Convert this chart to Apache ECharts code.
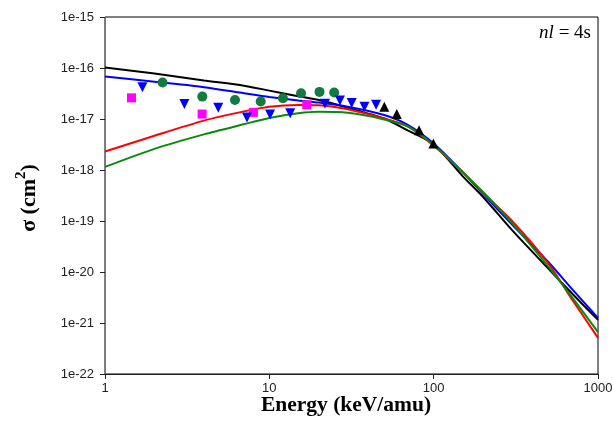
<!DOCTYPE html>
<html>
<head>
<meta charset="utf-8">
<script src="https://cdn.jsdelivr.net/npm/echarts@6/dist/echarts.min.js"></script>
<style>
  html, body { margin: 0; padding: 0; background: #fff; }
  #chart { width: 613px; height: 429px; }
</style>
</head>
<body>
<div id="chart"></div>
<script>
// energy grid (keV/amu) shared by the four theory curves
const energies = [1, 2, 4, 7, 10, 15, 20, 30, 50, 70, 100, 150, 200, 300, 500, 700, 1000];

const blackCurve = [1.02e-16, 7.8e-17, 5.7e-17, 4.5e-17, 3.6e-17, 2.8e-17, 2.35e-17, 1.66e-17, 1.02e-17, 5.9e-18,
  3.2e-18, 7.6e-19, 2.95e-19, 6.6e-20, 1.15e-20, 3.7e-21, 1.15e-21];
const blueCurve = [6.8e-17, 5.4e-17, 4.2e-17, 3.2e-17, 2.7e-17, 2.3e-17, 2.1e-17, 1.74e-17, 1.2e-17, 7.6e-18,
  3.3e-18, 9.1e-19, 3.4e-19, 8.5e-20, 1.55e-20, 4.5e-21, 1.26e-21];
const redCurve = [2.3e-18, 4.7e-18, 9.3e-18, 1.41e-17, 1.74e-17, 1.88e-17, 1.86e-17, 1.55e-17, 1.02e-17, 7.1e-18,
  3.0e-18, 9.1e-19, 3.5e-19, 1.0e-19, 1.45e-20, 2.8e-21, 5.1e-22];
const greenCurve = [1.15e-18, 2.6e-18, 5.0e-18, 7.9e-18, 1.05e-17, 1.29e-17, 1.38e-17, 1.32e-17, 9.8e-18, 7.1e-18,
  3.1e-18, 9.1e-19, 3.7e-19, 9.1e-20, 1.26e-20, 3.1e-21, 6.6e-22];

// experimental points
const squareE = [1.45, 3.9, 8.0, 16.9];
const squareS = [2.6e-17, 1.25e-17, 1.35e-17, 1.9e-17];

const circleE = [2.24, 3.91, 6.18, 8.86, 12.1, 15.6, 20.2, 24.8];
const circleS = [5.2e-17, 2.75e-17, 2.35e-17, 2.2e-17, 2.55e-17, 3.2e-17, 3.4e-17, 3.3e-17];

const downE = [1.69, 3.04, 4.89, 7.31, 10.1, 13.4, 21.8, 26.9, 31.7, 37.9, 44.6];
const downS = [4.2e-17, 1.97e-17, 1.66e-17, 1.07e-17, 1.23e-17, 1.29e-17, 2.0e-17, 2.3e-17, 2.05e-17, 1.74e-17, 1.9e-17];

const upE = [50.1, 59.6, 81.5, 99.6];
const upS = [1.74e-17, 1.26e-17, 6.0e-18, 3.3e-18];

const xTicks = ['1', '10', '100', '1000'];

const zip = (xs, ys) => xs.map((x, i) => [x, ys[i]]);

function curve(values, color) {
  return {
    type: 'line',
    data: zip(energies, values),
    smooth: 0.25,
    showSymbol: false,
    lineStyle: { color: color, width: 2 },
    z: 2
  };
}

function points(xs, ys, symbol, color, size, rotate) {
  return {
    type: 'scatter',
    data: zip(xs, ys),
    symbol: symbol,
    symbolSize: size,
    symbolRotate: rotate || 0,
    itemStyle: { color: color, opacity: 1 },
    z: 3
  };
}

const chart = echarts.init(document.getElementById('chart'));

chart.setOption({
  animation: false,
  backgroundColor: '#fff',
  grid: {
    left: 105, right: 15, top: 17, bottom: 55,
    containLabel: false,
    outerBoundsMode: 'none',
    show: true, borderColor: '#000', borderWidth: 1
  },
  xAxis: {
    type: 'log',
    logBase: 10,
    min: 1,
    max: 1000,
    splitNumber: 3,
    axisLine: { show: true, lineStyle: { color: '#222', width: 1 } },
    axisTick: { show: true, inside: false, length: 5, lineStyle: { color: '#222' } },
    minorTick: { show: false },
    splitLine: { show: false },
    axisLabel: {
      margin: 8,
      color: '#222',
      fontFamily: 'Liberation Sans',
      fontSize: 13,
      showMinLabel: true,
      showMaxLabel: true,
      formatter: v => xTicks[Math.round(Math.log10(v))]
    }
  },
  yAxis: {
    type: 'log',
    logBase: 10,
    // a hair below 1e-22 so the bottom decade tick survives float rounding
    min: 9.995e-23,
    max: 1e-15,
    splitNumber: 7,
    axisLine: { show: true, lineStyle: { color: '#777', width: 1 } },
    axisTick: { show: true, inside: false, length: 5, lineStyle: { color: '#222' } },
    splitLine: { show: false },
    axisLabel: {
      margin: 11,
      color: '#222',
      fontFamily: 'Liberation Sans',
      fontSize: 13,
      showMinLabel: true,
      showMaxLabel: true,
      formatter: v => '1e' + Math.round(Math.log10(v))
    }
  },
  series: [
    curve(blackCurve, '#000000'),
    curve(blueCurve, '#0000ff'),
    curve(redCurve, '#ff0000'),
    curve(greenCurve, '#0a8a0a'),
    points(squareE, squareS, 'rect', '#ff00ff', 9),
    points(circleE, circleS, 'circle', '#137a40', 10),
    points(downE, downS, 'triangle', '#0000ff', 10, 180),
    points(upE, upS, 'triangle', '#000000', 10)
  ],
  graphic: [
    {
      type: 'text',
      x: 346, y: 405,
      style: {
        text: 'Energy (keV/amu)',
        fontFamily: 'Liberation Serif',
        fontWeight: 'bold',
        fontSize: 21.5,
        fill: '#000',
        align: 'center',
        verticalAlign: 'middle'
      }
    },
    {
      type: 'text',
      x: 27, y: 198,
      rotation: Math.PI / 2,
      style: {
        text: '{a|σ (cm}{s|2}{a|)}',
        align: 'center',
        verticalAlign: 'middle',
        rich: {
          a: { fontFamily: 'Liberation Serif', fontWeight: 'bold', fontSize: 22, fill: '#000', verticalAlign: 'bottom', lineHeight: 26 },
          s: { fontFamily: 'Liberation Serif', fontWeight: 'bold', fontSize: 15, fill: '#000', verticalAlign: 'top', lineHeight: 26, padding: [0, 0, 9, 0] }
        }
      }
    },
    {
      type: 'text',
      x: 591, y: 33,
      style: {
        text: '{i|nl}{r| = 4s}',
        align: 'right',
        verticalAlign: 'middle',
        rich: {
          i: { fontFamily: 'Liberation Serif', fontStyle: 'italic', fontSize: 19, fill: '#000' },
          r: { fontFamily: 'Liberation Serif', fontSize: 19, fill: '#000' }
        }
      }
    }
  ]
});
</script>
</body>
</html>
